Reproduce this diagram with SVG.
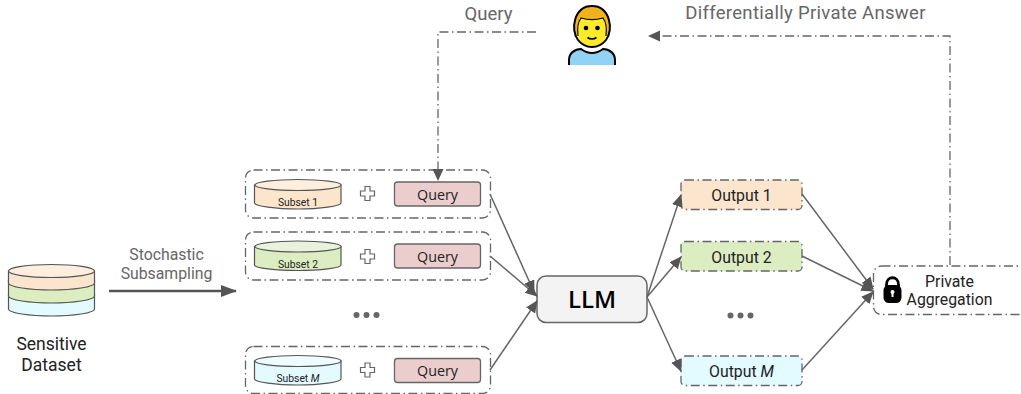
<svg xmlns="http://www.w3.org/2000/svg" width="1021" height="394" viewBox="0 0 1021 394">
<style>
text{font-family:Roboto,"Liberation Sans",sans-serif;fill:#222;text-anchor:middle}
text.o{font-family:"Open Sans","Liberation Sans",sans-serif;font-size:14.300px}
.g{fill:#666}
.dd{fill:#fff;stroke:#666;stroke-width:1.3;stroke-dasharray:9 3.5 1.5 3.5}
.q{fill:#eccdcd;stroke:#666;stroke-width:1.3}
.cyl{stroke:#555;stroke-width:1.2}
.ln{fill:none;stroke:#666;stroke-width:1.5;marker-end:url(#a)}
.dl{fill:none;stroke:#666;stroke-width:1.3;stroke-dasharray:9 3.5 1.5 3.5}
.dot{fill:#666}
.pl{fill:#fff;stroke:#666;stroke-width:1.2}
</style>
<defs>
<marker id="a" markerUnits="userSpaceOnUse" markerWidth="14" markerHeight="12" refX="11.500" refY="5.500" orient="auto"><path d="M0 0L12.500 5.500L0 11z" fill="#555"/></marker>
<marker id="b" markerUnits="userSpaceOnUse" markerWidth="16" markerHeight="14" refX="15" refY="6" orient="auto"><path d="M0 0L16 6L0 12z" fill="#555"/></marker>
<path id="plus" d="M-2.500 -7h5v4.500h4.500v5h-4.500v4.500h-5v-4.500h-4.500v-5h4.500z"/>
</defs>
<g id="dataset">
<path class="cyl" fill="#e3faff" d="M8.500 295V309C8.500 313 30 316 51.500 316S94.500 313 94.500 309V295z"/>
<path class="cyl" fill="#dcedc1" d="M8.500 280V296C8.500 300 30 303 51.500 303S94.500 300 94.500 296V280z"/>
<path class="cyl" fill="#fce5cd" d="M8.500 271V283C8.500 287 30 290 51.500 290S94.500 287 94.500 283V271z"/>
<ellipse class="cyl" cx="51.500" cy="271" rx="43" ry="6.500" fill="#fdeedd"/>
<text x="51.500" y="349.500" font-size="17.500">Sensitive</text>
<text x="51.500" y="370.500" font-size="17.500">Dataset</text>
</g>
<g id="subsampling-label">
<text class="g" x="166.500" y="260" font-size="15.800">Stochastic</text>
<text class="g" x="166.500" y="279" font-size="15.800">Subsampling</text>
</g>
<g id="user">
<path d="M569 65V60C569 53 575 49 581 49C585 52 588 53 592 53C596 53 599 52 603 49C609 49 615 53 615 60V65z" fill="#92d3f5"/>
<path d="M569 65V60C569 53 575 49 581 49C585 52 588 53 592 53C596 53 599 52 603 49C609 49 615 53 615 60V65" fill="none" stroke="#000" stroke-width="2"/>
<path d="M578 36C577 28 578 22 581 18C588 20 596 20 603 18C606 22 607 28 606 36C605 43 598 47 592 47C586 47 579 43 578 36z" fill="#fcea2b"/>
<path d="M577 38C572 30 573 6 592 6C611 6 612 30 607 38C607 30 607 23 603 18C596 20 588 20 581 18C577 23 577 30 577 38z" fill="#f1b31c"/>
<path d="M578 40C570 30 574 6 592 6C610 6 614 30 606 40C602 45 597 47 592 47C587 47 582 45 578 40z" fill="none" stroke="#000" stroke-width="2"/>
<path d="M578 36C577 28 578 22 581 18C588 20 596 20 603 18C606 22 607 28 606 36" fill="none" stroke="#000" stroke-width="1.200"/>
<circle cx="586" cy="28" r="2.300"/><circle cx="597.500" cy="28" r="2.300"/>
<path d="M587.500 37.500C590 39.500 594 39.500 596.500 37.500" fill="none" stroke="#000" stroke-width="1.700"/>
</g>
<text class="g" x="488.500" y="19.500" font-size="18.500">Query</text>
<text class="g" x="805.500" y="19" font-size="18.500" letter-spacing=".3">Differentially Private Answer</text>
<g id="group-1">
<rect class="dd" x="245.500" y="170" width="245" height="48" rx="8"/>
<path class="cyl" fill="#fce5cd" d="M254.500 185V203C254.500 206 276 209 298 209S341 206 341 203V185z"/>
<ellipse class="cyl" cx="298" cy="185" rx="43.200" ry="5.500" fill="#fdeedd"/>
<text x="298" y="206" font-size="10.300">Subset 1</text>
<use href="#plus" class="pl" x="367.500" y="193.500"/>
<rect class="q" x="394.500" y="182" width="86" height="24" rx="3"/>
<text class="o" x="437.500" y="200">Query</text>
</g>
<g id="group-2">
<rect class="dd" x="245.500" y="232" width="245" height="48" rx="8"/>
<path class="cyl" fill="#dcedc1" d="M254.500 246.500V265C254.500 268 276 270.500 298 270.500S341 268 341 265V246.500z"/>
<ellipse class="cyl" cx="298" cy="246.500" rx="43.200" ry="5.500" fill="#e8f3dc"/>
<text x="298" y="268" font-size="10.300">Subset 2</text>
<use href="#plus" class="pl" x="367.500" y="256.500"/>
<rect class="q" x="394.500" y="244" width="86" height="24" rx="3"/>
<text class="o" x="437.500" y="262">Query</text>
</g>
<g id="dots-left"><circle class="dot" cx="356.500" cy="315" r="3"/><circle class="dot" cx="366.500" cy="315" r="3"/><circle class="dot" cx="376.500" cy="315" r="3"/></g>
<g id="group-m">
<rect class="dd" x="245.500" y="346.500" width="245" height="47" rx="8"/>
<path class="cyl" fill="#e3faff" d="M254.500 361V379C254.500 382 276 385 298 385S341 382 341 379V361z"/>
<ellipse class="cyl" cx="298" cy="361" rx="43.200" ry="5.500" fill="#eefcff"/>
<text x="298" y="382" font-size="10.300">Subset <tspan font-style="italic">M</tspan></text>
<use href="#plus" class="pl" x="367.500" y="370"/>
<rect class="q" x="394.500" y="358.500" width="86" height="24" rx="3"/>
<text class="o" x="437.500" y="376">Query</text>
</g>
<g id="llm">
<rect x="537" y="276" width="110" height="46.500" rx="9" fill="#f3f3f3" stroke="#666" stroke-width="1.500"/>
<text x="592" y="308" style="font-family:'Open Sans','Liberation Sans',sans-serif;font-size:24px;font-weight:600;fill:#000">LLM</text>
</g>
<g id="output-1"><rect class="dd" style="fill:#fce5cd" x="681" y="180" width="121" height="29.500" rx="4"/><text x="741.500" y="200.500" font-size="15.800">Output 1</text></g>
<g id="output-2"><rect class="dd" style="fill:#dcedc1" x="681" y="241.500" width="121" height="29.500" rx="4"/><text x="741.500" y="262.500" font-size="15.800">Output 2</text></g>
<g id="dots-right"><circle class="dot" cx="730.500" cy="315.500" r="3"/><circle class="dot" cx="740.500" cy="315.500" r="3"/><circle class="dot" cx="750.500" cy="315.500" r="3"/></g>
<g id="output-m"><rect class="dd" style="fill:#e3faff" x="681" y="356" width="121" height="29.500" rx="4"/><text x="741.500" y="376.500" font-size="15.800">Output <tspan font-style="italic">M</tspan></text></g>
<g id="private-aggregation">
<rect class="dd" x="873.500" y="266" width="170" height="48.500" rx="8"/>
<path d="M886.500 287V284.500C886.500 275.500 898.500 275.500 898.500 284.500V287" fill="none" stroke="#000" stroke-width="2.800"/>
<rect x="883.500" y="285" width="18" height="18" rx="5.500"/>
<circle cx="892.500" cy="292" r="2" fill="#fff"/><path d="M891.500 292h2v5h-2z" fill="#fff"/>
<text x="949.500" y="287" font-size="15.800">Private</text>
<text x="949.500" y="305" font-size="15.800">Aggregation</text>
</g>
<g id="connectors">
<path d="M109 291H236" fill="none" stroke="#555" stroke-width="2.400" marker-end="url(#b)"/>
<path class="dl" d="M536 32H438V170"/><path d="M432.500 169L443.500 169L438 181z" fill="#555"/>
<path class="dl" d="M950 265V36H660"/><path d="M660 30.500V41.500L648 36z" fill="#555"/>
<path class="ln" d="M490 194L534 292"/>
<path class="ln" d="M490 256L537 296"/>
<path class="ln" d="M490 370L537 301"/>
<path class="ln" d="M647 297L681 195"/>
<path class="ln" d="M647 297L681 257"/>
<path class="ln" d="M647 297L681 371"/>
<path class="ln" d="M802 194L873 289"/>
<path class="ln" d="M802 256L873 291"/>
<path class="ln" d="M802 370L873 292"/>
</g>
</svg>
